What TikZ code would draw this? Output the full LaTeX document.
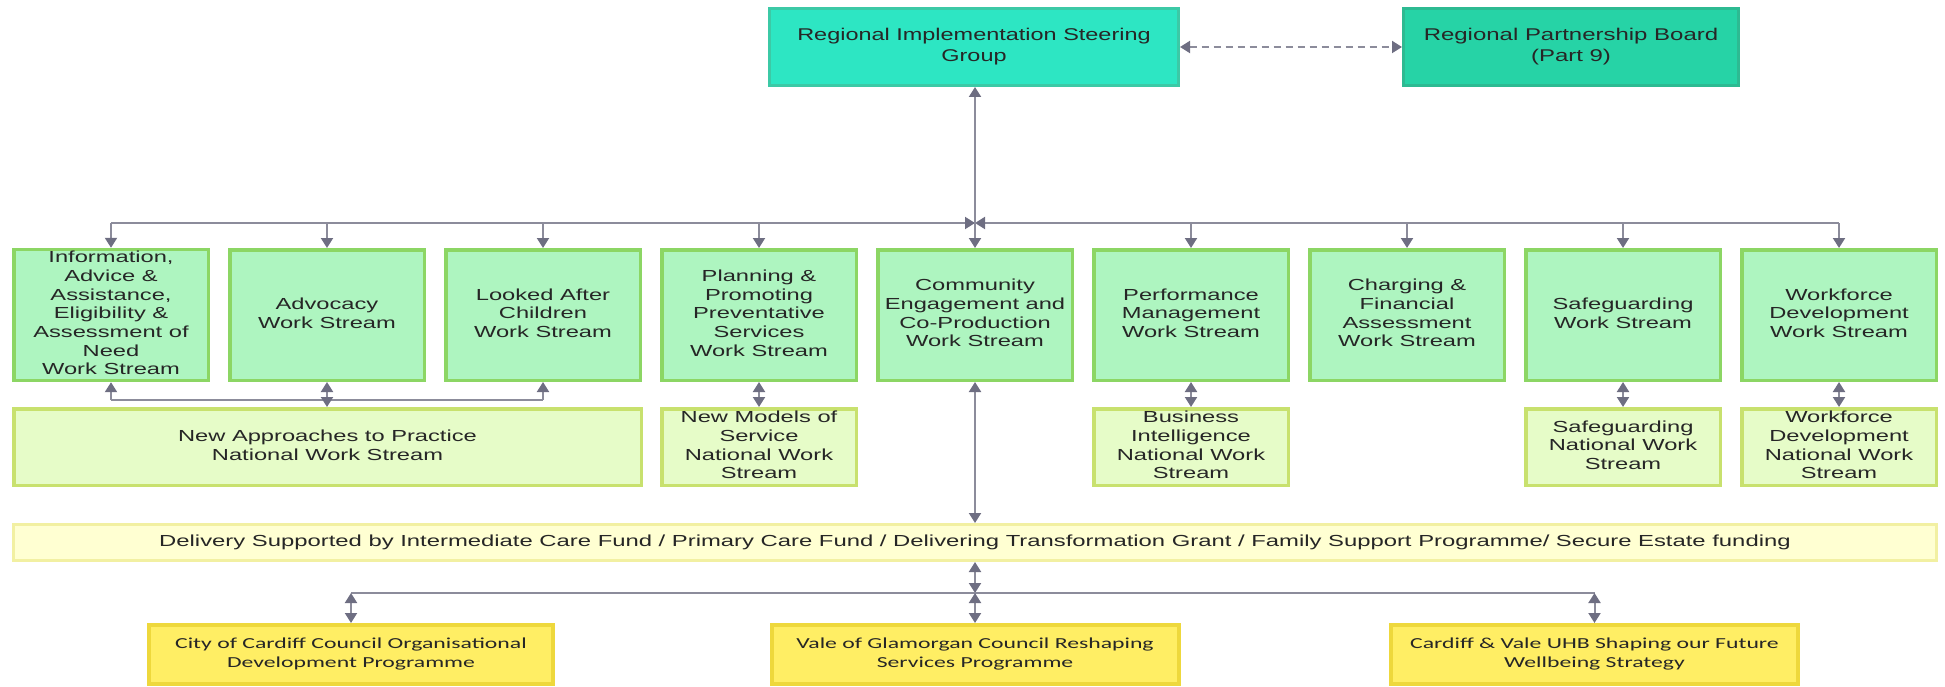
\documentclass[tikz,border=0pt]{standalone}
\usepackage{fontspec}
\setmainfont{Liberation Sans}
\newfontfamily\calfont{Carlito}
\usepackage{graphicx}
\usetikzlibrary{arrows.meta}
\definecolor{risgF}{HTML}{2DE6C3}
\definecolor{risgB}{HTML}{3CC9A6}
\definecolor{rpbF}{HTML}{26D3A6}
\definecolor{rpbB}{HTML}{2DBA92}
\definecolor{wsF}{HTML}{AEF5C0}
\definecolor{wsB}{HTML}{8CD664}
\definecolor{natF}{HTML}{E6FCC8}
\definecolor{natB}{HTML}{C8E16E}
\definecolor{delF}{HTML}{FFFFD2}
\definecolor{delB}{HTML}{F2F0A2}
\definecolor{orgF}{HTML}{FFEE64}
\definecolor{orgB}{HTML}{EED83C}
\definecolor{lineC}{HTML}{8C8C9B}
\definecolor{headC}{HTML}{6E6E82}
\definecolor{txt}{HTML}{262626}
\newcommand{\atxt}[1]{\scalebox{1.48}[1]{\fontsize{16pt}{18.7pt}\selectfont\begin{tabular}{@{}c@{}}#1\end{tabular}}}
\newcommand{\ttxt}[2]{\scalebox{#1}[1]{\fontsize{17pt}{21pt}\selectfont\begin{tabular}{@{}c@{}}#2\end{tabular}}}
\newcommand{\dtxt}[1]{\scalebox{1.49}[1]{\fontsize{16pt}{18.7pt}\selectfont #1}}
\newcommand{\ctxt}[1]{\scalebox{1.55}[1]{\calfont\fontsize{15.3pt}{18.7pt}\selectfont\begin{tabular}{@{}c@{}}#1\end{tabular}}}
\tikzset{
  bx/.style={inner sep=0pt, text=txt},
  topbox/.style={bx, draw=risgB, fill=risgF, line width=3pt, minimum width=409pt, minimum height=77pt},
  rpbbox/.style={bx, draw=rpbB, fill=rpbF, line width=3pt, minimum width=335pt, minimum height=77pt},
  wbox/.style={bx, draw=wsB, fill=wsF, line width=3.5pt, minimum width=194.5pt, minimum height=130.5pt},
  nbox/.style={bx, draw=natB, fill=natF, line width=3.5pt, minimum width=194.5pt, minimum height=76.5pt},
  dbox/.style={bx, draw=delB, fill=delF, line width=3pt, minimum width=1923pt, minimum height=36pt},
  obox/.style={bx, draw=orgB, fill=orgF, line width=4pt, minimum width=407pt, minimum height=59pt},
  conn/.style={draw=lineC, line width=2pt},
  tip/.tip={Triangle[length=10pt,width=12pt,color=headC]},
  one/.style={conn, -tip},
  two/.style={conn, tip-tip},
}
\begin{document}
\begin{tikzpicture}[x=1pt,y=-1pt]
\useasboundingbox (0,0) rectangle (1945,687);
% top
\node[topbox] (risg) at (974,47) {\ttxt{1.38}{Regional Implementation Steering\\Group}};
\node[rpbbox] (rpb) at (1571,47) {\ttxt{1.41}{Regional Partnership Board\\(Part 9)}};
% work streams
\node[wbox] (w1) at (111,315) {\atxt{Information,\\Advice \&\\Assistance,\\Eligibility \&\\Assessment of\\Need\\Work Stream}};
\node[wbox] (w2) at (327,315) {\atxt{Advocacy\\Work Stream}};
\node[wbox] (w3) at (543,315) {\atxt{Looked After\\Children\\Work Stream}};
\node[wbox] (w4) at (759,315) {\atxt{Planning \&\\Promoting\\Preventative\\Services\\Work Stream}};
\node[wbox] (w5) at (975,315) {\atxt{Community\\Engagement and\\Co-Production\\Work Stream}};
\node[wbox] (w6) at (1191,315) {\atxt{Performance\\Management\\Work Stream}};
\node[wbox] (w7) at (1407,315) {\atxt{Charging \&\\Financial\\Assessment\\Work Stream}};
\node[wbox] (w8) at (1623,315) {\atxt{Safeguarding\\Work Stream}};
\node[wbox] (w9) at (1839,315) {\atxt{Workforce\\Development\\Work Stream}};
% national
\node[nbox, minimum width=627.5pt] (na) at (327.5,447) {\atxt{New Approaches to Practice\\National Work Stream}};
\node[nbox] (n4) at (759,447) {\atxt{New Models of\\Service\\National Work\\Stream}};
\node[nbox] (n6) at (1191,447) {\atxt{Business\\Intelligence\\National Work\\Stream}};
\node[nbox] (n8) at (1623,447) {\atxt{Safeguarding\\National Work\\Stream}};
\node[nbox] (n9) at (1839,447) {\atxt{Workforce\\Development\\National Work\\Stream}};
% delivery
\node[dbox] (del) at (975,542.5) {\dtxt{Delivery Supported by Intermediate Care Fund / Primary Care Fund / Delivering Transformation Grant / Family Support Programme/ Secure Estate funding}};
% organisations
\node[obox, minimum width=404pt] (card) at (351,654.5) {\ctxt{City of Cardiff Council Organisational\\Development Programme}};
\node[obox] (vale) at (975,654.5) {\ctxt{Vale of Glamorgan Council Reshaping\\Services Programme}};
\node[obox] (uhb) at (1594.5,654.5) {\ctxt{Cardiff \& Vale UHB Shaping our Future\\Wellbeing Strategy}};
% connectors
\coordinate (bus) at (975,223);
\coordinate (nabus) at (327,400);
\coordinate (bbus) at (975,593);
\draw[two, dash pattern=on 7pt off 5pt] (risg.east) -- (rpb.west);
\draw[one] (w1.north |- bus) -- (bus);
\draw[one] (w9.north |- bus) -- (bus);
\foreach \i in {1,2,3,4,6,7,8,9} {\draw[one] (w\i.north |- bus) -- (w\i.north);}
\draw[two] (risg.south -| w5.north) -- (w5.north);
\draw[conn] (w1.south |- nabus) -- (w3.south |- nabus);
\draw[one] (w1.south |- nabus) -- (w1.south);
\draw[one] (w3.south |- nabus) -- (w3.south);
\draw[two] (w2.south) -- (w2.south |- na.north);
\foreach \i in {4,6,8,9} {\draw[two] (w\i.south) -- (n\i.north);}
\draw[two] (w5.south) -- (w5.south |- del.north);
\draw[two] (vale.north |- del.south) -- (vale.north |- bbus);
\draw[conn] (card.north |- bbus) -- (uhb.north |- bbus);
\draw[two] (card.north |- bbus) -- (card.north);
\draw[two] (vale.north |- bbus) -- (vale.north);
\draw[two] (uhb.north |- bbus) -- (uhb.north);
\end{tikzpicture}
\end{document}
